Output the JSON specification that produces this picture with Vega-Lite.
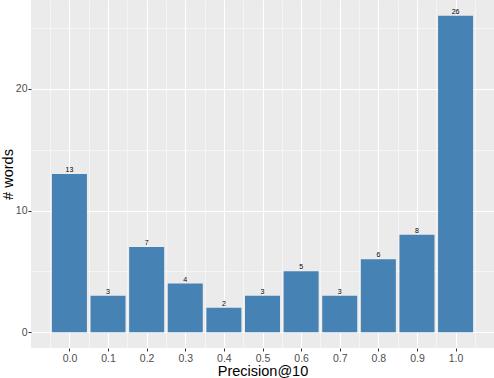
{
  "$schema": "https://vega.github.io/schema/vega-lite/v6.json",
  "width": 463,
  "height": 348,
  "autosize": {"type": "none"},
  "padding": {"left": 31, "top": 0, "right": 0, "bottom": 30},
  "background": "white",
  "view": {"fill": "#EBEBEB", "stroke": null},
  "config": {"font": "Liberation Sans"},
  "data": {"values": [
    {"p": 0.0, "n": 13}, {"p": 0.1, "n": 3}, {"p": 0.2, "n": 7}, {"p": 0.3, "n": 4},
    {"p": 0.4, "n": 2}, {"p": 0.5, "n": 3}, {"p": 0.6, "n": 5}, {"p": 0.7, "n": 3},
    {"p": 0.8, "n": 6}, {"p": 0.9, "n": 8}, {"p": 1.0, "n": 26}
  ]},
  "encoding": {
    "x": {"field": "p", "type": "quantitative",
      "scale": {"domain": [-0.0995, 1.0995], "nice": false, "zero": false, "padding": 0},
      "axis": {
        "title": "Precision@10", "titleFontSize": 14.5, "titleFontWeight": "normal", "titleColor": "black", "titlePadding": 1,
        "values": [-0.05, 0, 0.05, 0.1, 0.15, 0.2, 0.25, 0.3, 0.35, 0.4, 0.45, 0.5, 0.55, 0.6, 0.65, 0.7, 0.75, 0.8, 0.85, 0.9, 0.95, 1.0, 1.05],
        "format": ".1f",
        "labelExpr": "abs(datum.value*10 - round(datum.value*10)) < 0.01 ? format(datum.value, '.1f') : ''",
        "labelFontSize": 10.5, "labelColor": "#4D4D4D", "labelPadding": 2,
        "domain": false, "tickSize": 3, "tickColor": "#333333",
        "tickOpacity": {"condition": {"test": "abs(datum.value*10 - round(datum.value*10)) < 0.01", "value": 1}, "value": 0},
        "grid": true, "gridColor": "white",
        "gridWidth": {"condition": {"test": "abs(datum.value*10 - round(datum.value*10)) < 0.01", "value": 1.1}, "value": 0.5}
      }
    },
    "y": {"field": "n", "type": "quantitative",
      "scale": {"domain": [-1.3, 27.3], "nice": false, "zero": false},
      "axis": {
        "title": "# words", "titleFontSize": 14.5, "titleFontWeight": "normal", "titleColor": "black", "titlePadding": 0,
        "values": [0, 5, 10, 15, 20, 25],
        "labelExpr": "datum.value % 10 == 0 ? datum.value : ''",
        "labelFontSize": 10.5, "labelColor": "#4D4D4D", "labelPadding": 1,
        "domain": false, "tickSize": 3, "tickColor": "#333333",
        "tickOpacity": {"condition": {"test": "datum.value % 10 == 0", "value": 1}, "value": 0},
        "grid": true, "gridColor": "white",
        "gridWidth": {"condition": {"test": "datum.value % 10 == 0", "value": 1.1}, "value": 0.5}
      }
    }
  },
  "layer": [
    {"mark": {"type": "bar", "size": 35, "color": "#4682B4"},
     "encoding": {"y2": {"datum": 0}}},
    {"mark": {"type": "text", "fontSize": 7, "dy": -1, "baseline": "bottom", "color": "black"},
     "encoding": {"text": {"field": "n", "type": "quantitative"}}}
  ]
}
